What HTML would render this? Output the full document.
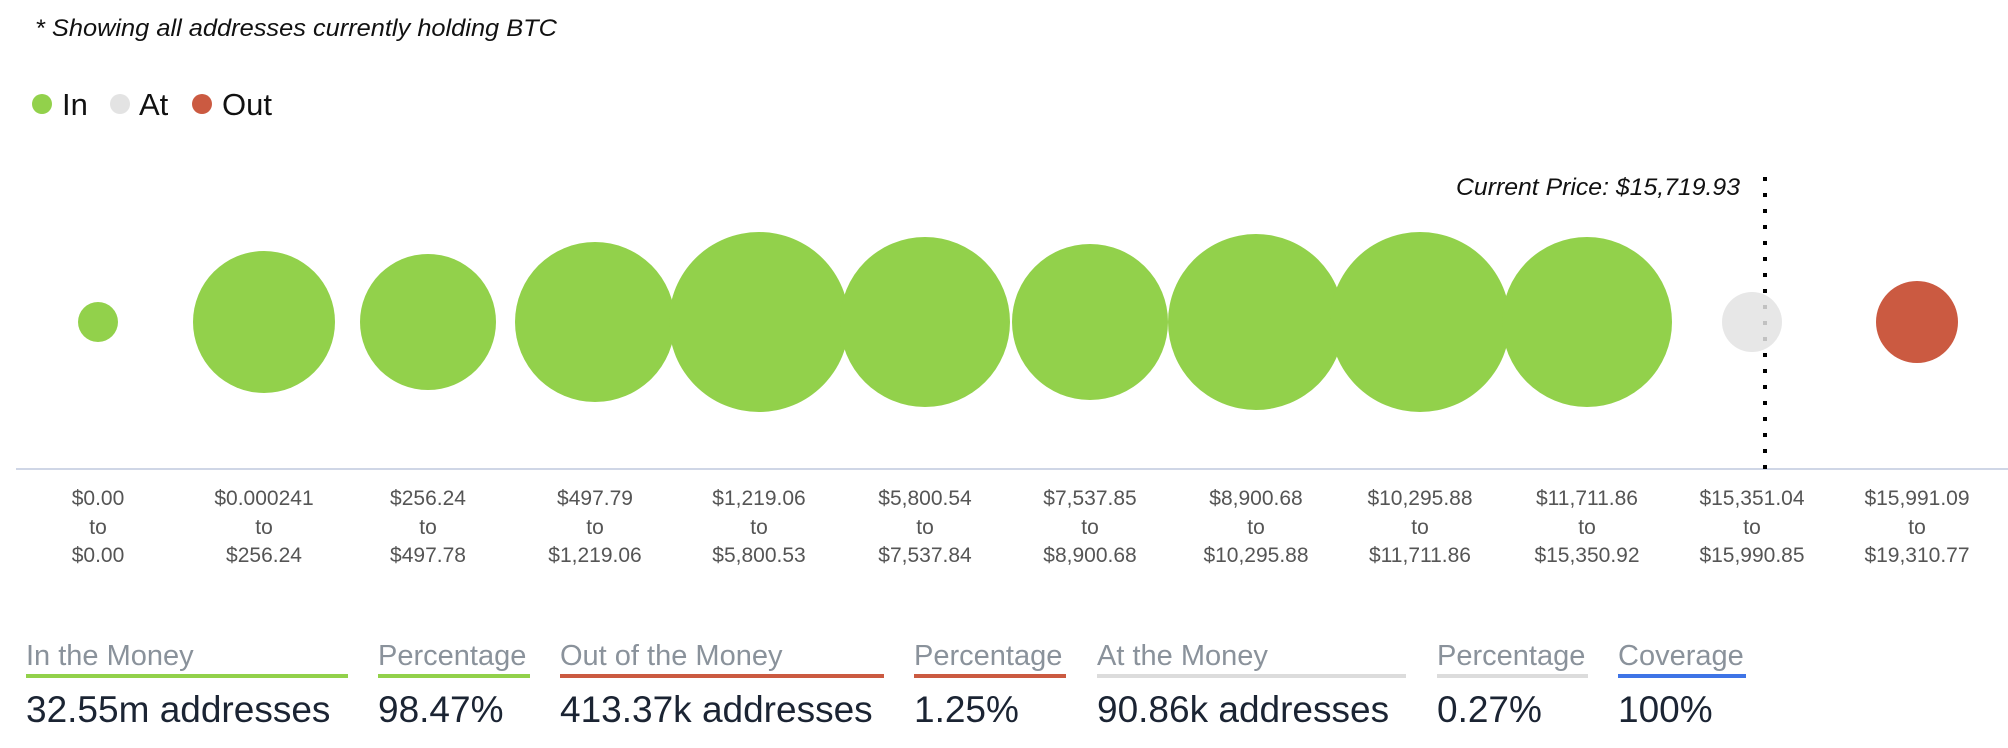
<!DOCTYPE html>
<html><head><meta charset="utf-8"><style>
html,body{margin:0;padding:0;background:#fff;width:2008px;height:748px;overflow:hidden}
svg text{font-family:"Liberation Sans",sans-serif}
</style></head><body>
<svg width="2008" height="748" viewBox="0 0 2008 748" xmlns="http://www.w3.org/2000/svg">
<text x="35" y="36" font-size="24" font-style="italic" fill="#111" textLength="522" lengthAdjust="spacingAndGlyphs">* Showing all addresses currently holding BTC</text>
<circle cx="42" cy="104" r="10" fill="#92d14b"/>
<text x="62" y="115" font-size="31" fill="#111">In</text>
<circle cx="120" cy="104" r="10" fill="#e3e3e3"/>
<text x="139" y="115" font-size="31" fill="#111">At</text>
<circle cx="202" cy="104" r="10" fill="#cb5a41"/>
<text x="222" y="115" font-size="31" fill="#111">Out</text>

<line x1="16" y1="469" x2="2008" y2="469" stroke="#cfd6e6" stroke-width="2"/>
<line x1="1765" y1="177" x2="1765" y2="469" stroke="#000" stroke-width="4" stroke-dasharray="4 12"/>
<text x="1740" y="195" font-size="24" font-style="italic" text-anchor="end" fill="#111" textLength="284" lengthAdjust="spacingAndGlyphs">Current Price: $15,719.93</text>

<g fill="#92d14b">
<circle cx="98" cy="322" r="20"/>
<circle cx="264" cy="322" r="71"/>
<circle cx="428" cy="322" r="68"/>
<circle cx="595" cy="322" r="80"/>
<circle cx="759" cy="322" r="90"/>
<circle cx="925" cy="322" r="85"/>
<circle cx="1090" cy="322" r="78"/>
<circle cx="1256" cy="322" r="88"/>
<circle cx="1420" cy="322" r="90"/>
<circle cx="1587" cy="322" r="85"/>
</g>
<circle cx="1752" cy="322" r="30" fill="#e3e3e3" opacity="0.85"/>
<circle cx="1917" cy="322" r="41" fill="#cb5a41"/>

<g font-size="21" fill="#555" text-anchor="middle">
<text x="98" y="505">$0.00</text><text x="98" y="534">to</text><text x="98" y="562">$0.00</text>
<text x="264" y="505">$0.000241</text><text x="264" y="534">to</text><text x="264" y="562">$256.24</text>
<text x="428" y="505">$256.24</text><text x="428" y="534">to</text><text x="428" y="562">$497.78</text>
<text x="595" y="505">$497.79</text><text x="595" y="534">to</text><text x="595" y="562">$1,219.06</text>
<text x="759" y="505">$1,219.06</text><text x="759" y="534">to</text><text x="759" y="562">$5,800.53</text>
<text x="925" y="505">$5,800.54</text><text x="925" y="534">to</text><text x="925" y="562">$7,537.84</text>
<text x="1090" y="505">$7,537.85</text><text x="1090" y="534">to</text><text x="1090" y="562">$8,900.68</text>
<text x="1256" y="505">$8,900.68</text><text x="1256" y="534">to</text><text x="1256" y="562">$10,295.88</text>
<text x="1420" y="505">$10,295.88</text><text x="1420" y="534">to</text><text x="1420" y="562">$11,711.86</text>
<text x="1587" y="505">$11,711.86</text><text x="1587" y="534">to</text><text x="1587" y="562">$15,350.92</text>
<text x="1752" y="505">$15,351.04</text><text x="1752" y="534">to</text><text x="1752" y="562">$15,990.85</text>
<text x="1917" y="505">$15,991.09</text><text x="1917" y="534">to</text><text x="1917" y="562">$19,310.77</text>
</g>

<g font-size="29" fill="#8a929b">
<text x="26" y="665">In the Money</text>
<text x="378" y="665">Percentage</text>
<text x="560" y="665">Out of the Money</text>
<text x="914" y="665">Percentage</text>
<text x="1097" y="665">At the Money</text>
<text x="1437" y="665">Percentage</text>
<text x="1618" y="665">Coverage</text>
</g>
<rect x="26" y="674" width="322" height="4" fill="#92d14b"/>
<rect x="378" y="674" width="152" height="4" fill="#92d14b"/>
<rect x="560" y="674" width="324" height="4" fill="#cb5a41"/>
<rect x="914" y="674" width="152" height="4" fill="#cb5a41"/>
<rect x="1097" y="674" width="309" height="4" fill="#dcdcdc"/>
<rect x="1437" y="674" width="151" height="4" fill="#dcdcdc"/>
<rect x="1618" y="674" width="128" height="4" fill="#3e74e6"/>
<g font-size="37" fill="#1b2433">
<text x="26" y="722">32.55m addresses</text>
<text x="378" y="722">98.47%</text>
<text x="560" y="722">413.37k addresses</text>
<text x="914" y="722">1.25%</text>
<text x="1097" y="722">90.86k addresses</text>
<text x="1437" y="722">0.27%</text>
<text x="1618" y="722">100%</text>
</g>
</svg>
</body></html>
